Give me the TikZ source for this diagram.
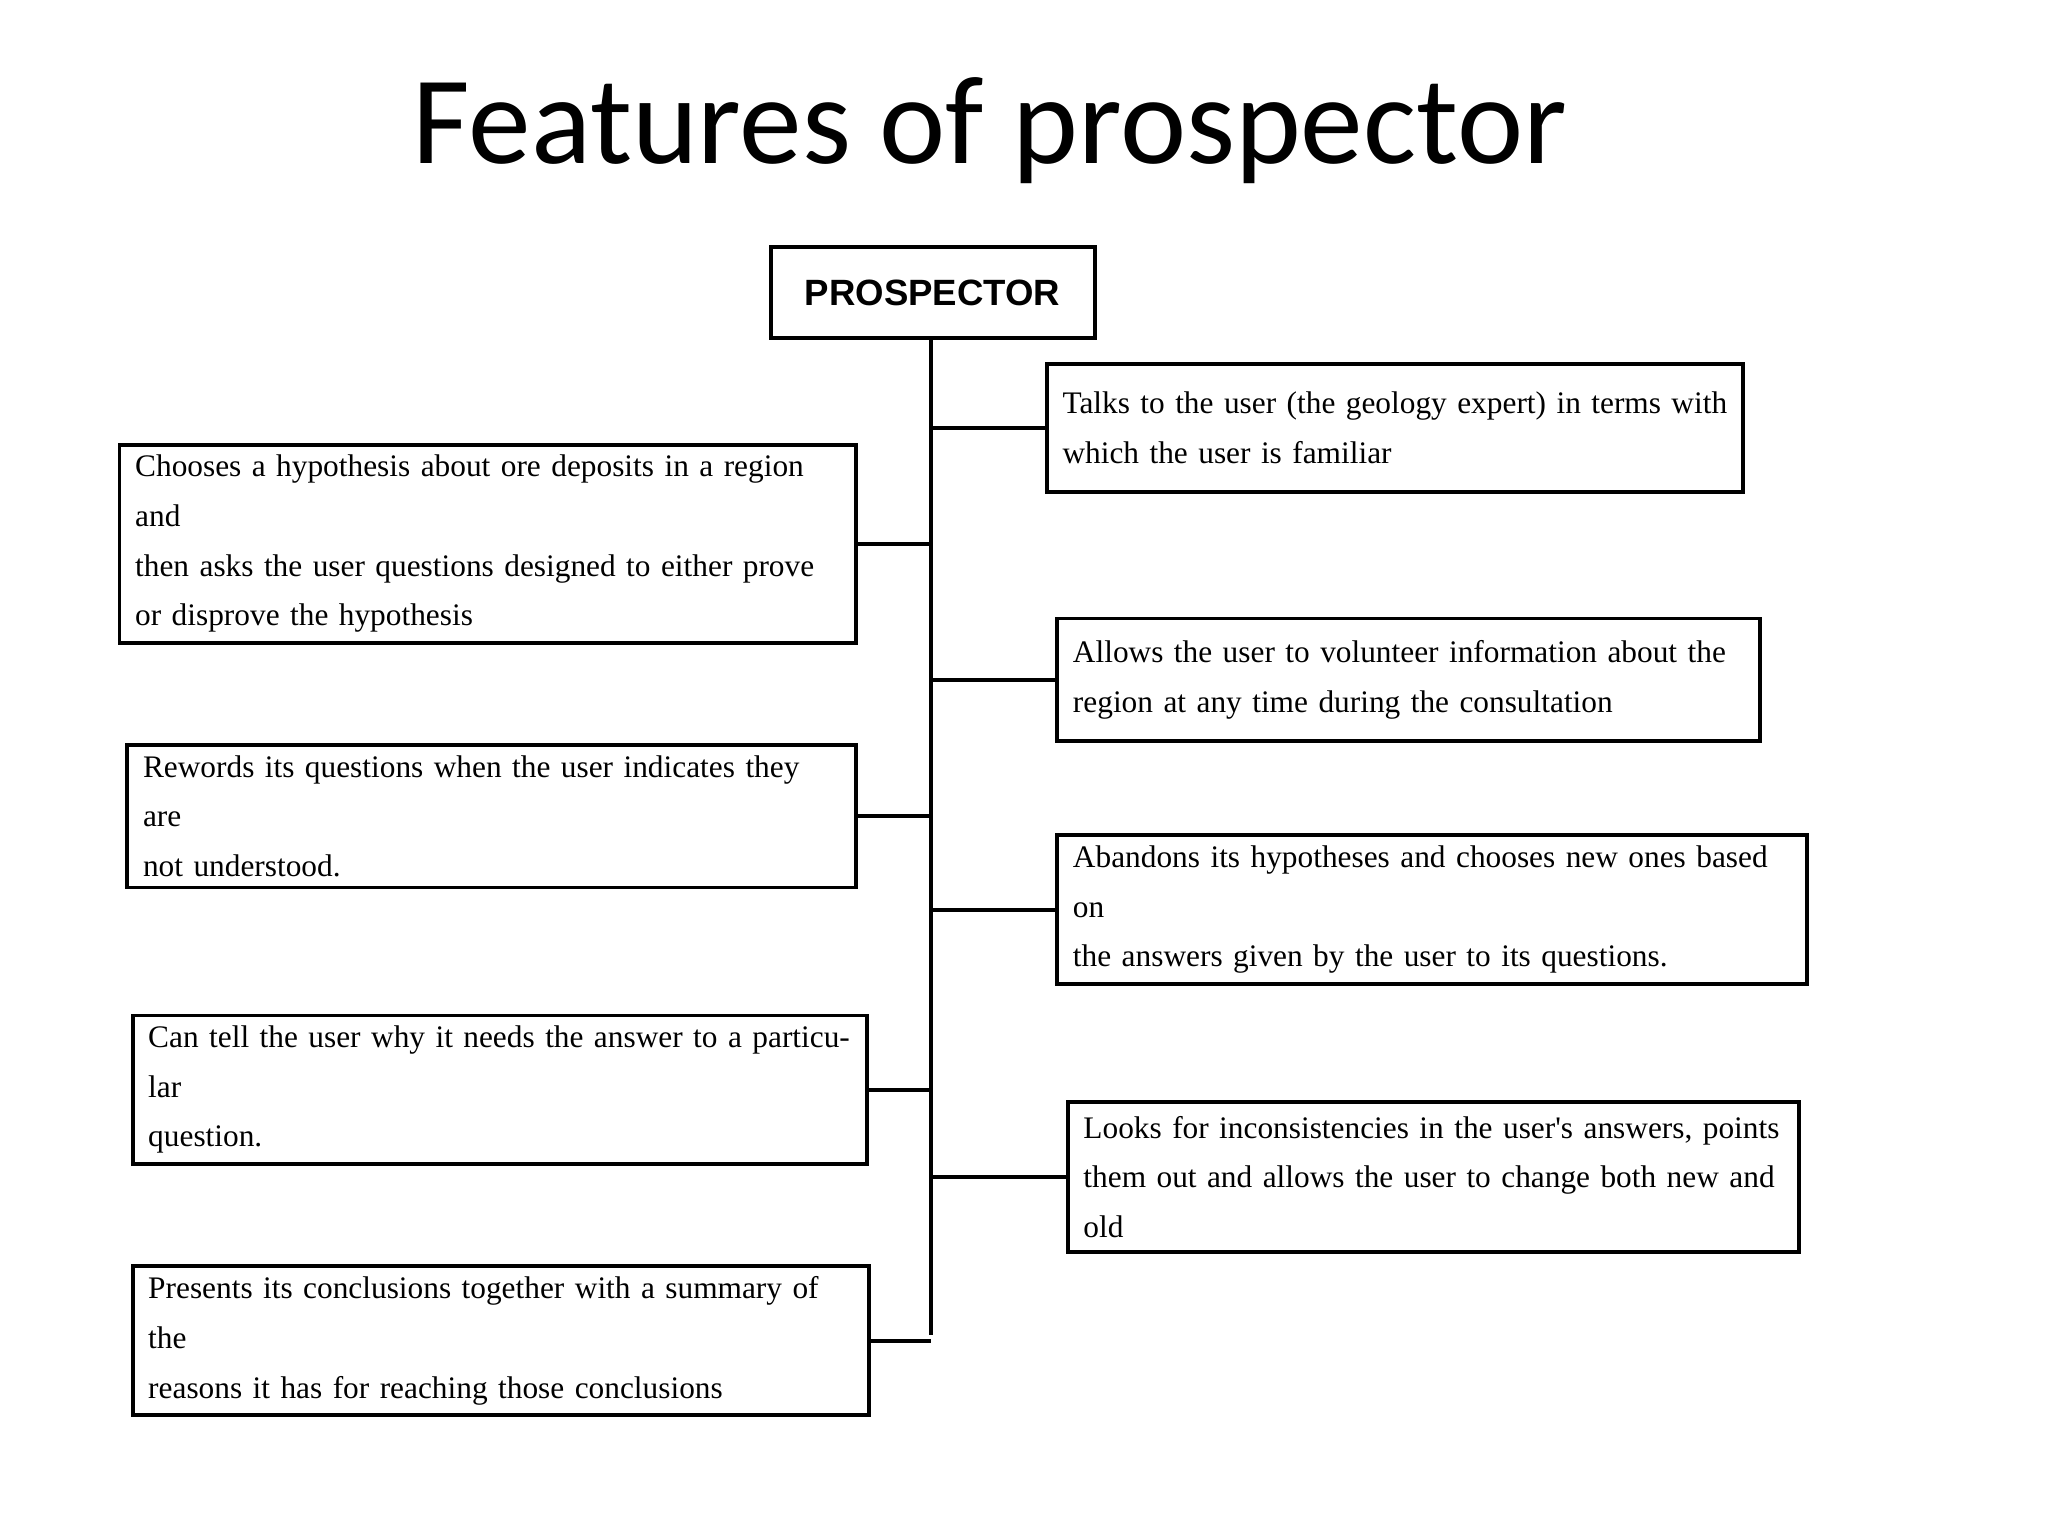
\documentclass[tikz,border=0pt]{standalone}
\usepackage{fontspec}
\setmainfont{Liberation Serif}
\newfontfamily\boxfont{Liberation Serif}
\newfontfamily\titlefont{Carlito}
\newfontfamily\headfont{Liberation Sans}
\begin{document}
\begin{tikzpicture}[x=1pt,y=-1pt,
  feat/.style={draw,line width=3pt,rectangle,align=left,inner xsep=12pt,inner ysep=8pt,font=\boxfont\fontsize{24}{38}\selectfont,anchor=north west},
  link/.style={line width=3pt}]
\useasboundingbox (0,0) rectangle (1568,1176);
\node[font=\titlefont\fontsize{96}{110}\selectfont] (title) at (758,100) {Features of prospector};
\node[draw,line width=3pt,minimum width=248pt,minimum height=70pt,font=\headfont\bfseries\fontsize{28}{32}\selectfont] (head) at (714,224) {PROSPECTOR};
\coordinate (top) at (713,259);
\coordinate (bot) at (713,1022);
\draw[link] (top) -- (bot);
% right boxes
\node[feat,text width=509pt,minimum height=98pt] (r1) at (800,277) {Talks to the user (the geology expert) in terms with\\which the user is familiar};
\node[feat,text width=514pt,minimum height=94pt] (r2) at (808,472) {Allows the user to volunteer information about the\\region at any time during the consultation};
\node[feat,text width=550pt,minimum height=103pt] (r3) at (808,638) {Abandons its hypotheses and chooses new ones based on\\the answers given by the user to its questions.};
\node[feat,text width=536pt,minimum height=115pt] (r4) at (816,842) {Looks for inconsistencies in the user's answers, points\\them out and allows the user to change both new and old};
% left boxes
\node[feat,text width=540pt,minimum height=131pt] (l1) at (90,339) {Chooses a hypothesis about ore deposits in a region and\\then asks the user questions designed to either prove\\or disprove the hypothesis};
\node[feat,text width=534pt,minimum height=87pt] (l2) at (96,569) {Rewords its questions when the user indicates they are\\not understood.};
\node[feat,text width=538pt,minimum height=100pt] (l3) at (100,776) {Can tell the user why it needs the answer to a particular\\question.};
\node[feat,text width=540pt,minimum height=96pt] (l4) at (100,968) {Presents its conclusions together with a summary of the\\reasons it has for reaching those conclusions};
\foreach \b in {r1,r2,r3,r4}{\draw[link] (\b.west) -- (\b.west -| top);}
\foreach \b in {l1,l2,l3,l4}{\draw[link] (\b.east) -- (\b.east -| top);}
\end{tikzpicture}
\end{document}
